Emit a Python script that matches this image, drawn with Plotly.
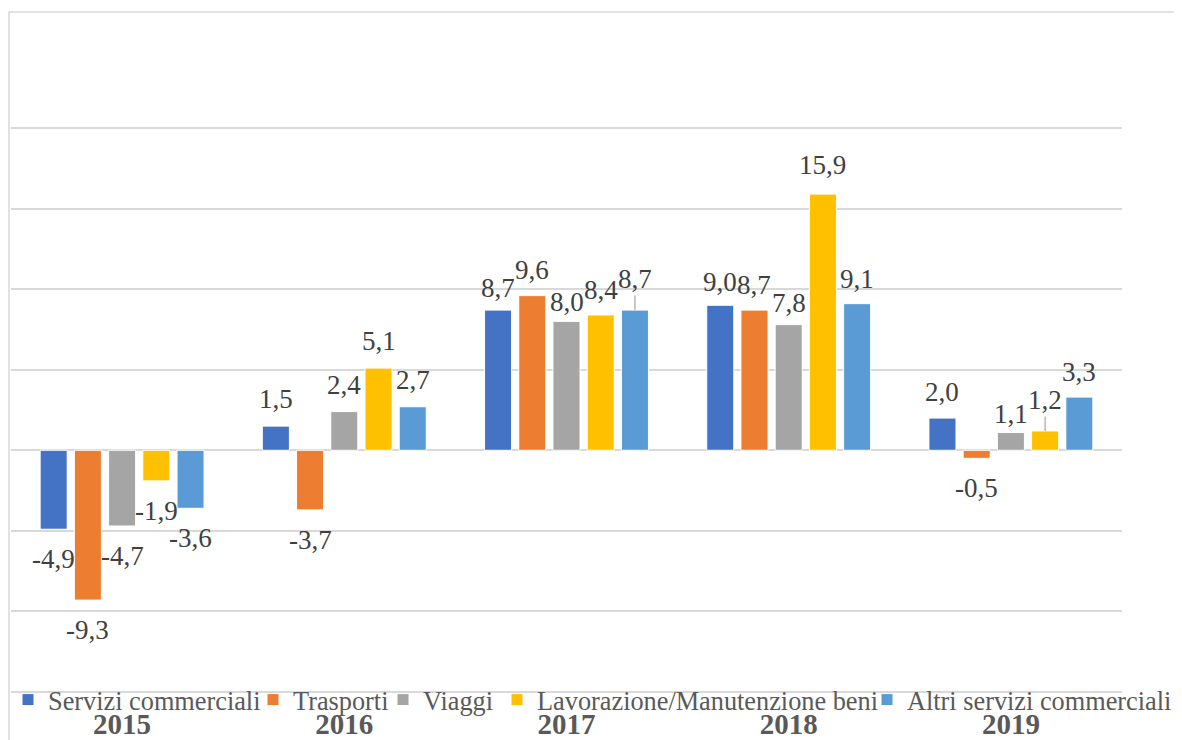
import plotly.graph_objects as go

years = ["2015", "2016", "2017", "2018", "2019"]
series_names = ["Servizi commerciali", "Trasporti", "Viaggi",
                "Lavorazione/Manutenzione beni", "Altri servizi commerciali"]
servizi = [-4.9, 1.5, 8.7, 9.0, 2.0]
trasporti = [-9.3, -3.7, 9.6, 8.7, -0.5]
viaggi = [-4.7, 2.4, 8.0, 7.8, 1.1]
lavorazione = [-1.9, 5.1, 8.4, 15.9, 1.2]
altri = [-3.6, 2.7, 8.7, 9.1, 3.3]
series_values = [servizi, trasporti, viaggi, lavorazione, altri]
colors = ["#4472C4", "#ED7D31", "#A5A5A5", "#FFC000", "#5B9BD5"]

# page body has an 8px margin; the figure is sized/offset to compensate
OFF = 8
W, H = 1182 - OFF, 740 - OFF
Y_MIN, Y_MAX, PAD_U = -15, 20, 0.5          # axis limits + padding (units)
PX_PER_U = 563.5 / (Y_MAX - Y_MIN)
PAD_PX = PAD_U * PX_PER_U
ML, MR = 11 - OFF, 60
MT = 128 - OFF - PAD_PX
MB = (740 - 691.5) - PAD_PX
BARGAP, BARGROUPGAP = 0.23, 0.21
plot_w = W - ML - MR
plot_h = H - MT - MB
slot_px = plot_w / len(years) * (1 - BARGAP) / len(series_names)

# label offsets (px above bar end); defaults, with a few manual adjustments
default_up, default_down = 27, -30
label_shift = {
    (2, 0): 22, (2, 1): 26, (2, 2): 19, (2, 3): 25,
    (3, 0): 23, (3, 1): 25, (3, 2): 22, (3, 3): 29, (3, 4): 25,
    (4, 0): 26, (4, 2): 19, (4, 4): 25,
}
leader = {(2, 4): 31, (4, 3): 31}

# legend entries: screen x where each entry's text starts
legend_text_x = [43, 293, 423, 537, 907]
legend_ids = ["legend", "legend2", "legend3", "legend4", "legend5"]

fig = go.Figure()
for j, (name, vals) in enumerate(zip(series_names, series_values)):
    fig.add_trace(go.Bar(
        x=years, y=vals, name=name, legend=legend_ids[j],
        marker=dict(color=colors[j], line=dict(color="white", width=1)),
        hoverinfo="x+y+name",
    ))

annotations = []
label_font = dict(family="Liberation Serif", size=27, color="#404040")
for j, vals in enumerate(series_values):
    for i, v in enumerate(vals):
        txt = f"{v:.1f}".replace(".", ",")
        xs = (j - (len(series_names) - 1) / 2) * slot_px
        if (i, j) in leader:
            annotations.append(dict(
                x=i, y=v, xref="x", yref="y", text=txt,
                showarrow=True, arrowhead=0, arrowwidth=1.2, arrowcolor="#a6a6a6",
                ax=0, ay=-leader[(i, j)], standoff=0, xshift=xs,
                font=label_font,
            ))
        else:
            up = label_shift.get((i, j), default_up if v >= 0 else default_down)
            annotations.append(dict(
                x=i, y=v, xref="x", yref="y", text=txt,
                showarrow=False, xshift=xs, yshift=up,
                xanchor="center", yanchor="middle", font=label_font,
            ))

legend_common = dict(
    orientation="h", xref="container", yref="container",
    xanchor="left", yanchor="middle", y=1 - (700 - OFF) / H,
    font=dict(family="Liberation Serif", size=26.3, color="#595959"),
    bgcolor="rgba(0,0,0,0)", itemwidth=30, borderwidth=0,
    itemclick=False, itemdoubleclick=False,
)
legends = {}
for j, lid in enumerate(legend_ids):
    legends[lid] = dict(legend_common, x=(legend_text_x[j] - 40 - OFF) / W)

fig.update_layout(
    width=W, height=H,
    margin=dict(l=ML, r=MR, t=MT, b=MB, pad=0, autoexpand=False),
    paper_bgcolor="white", plot_bgcolor="white",
    barmode="group", bargap=BARGAP, bargroupgap=BARGROUPGAP,
    font=dict(family="Liberation Serif", color="#595959"),
    showlegend=True,
    xaxis=dict(
        type="category", range=[-0.5, len(years) - 0.5], autorange=False,
        showgrid=False, zeroline=False, showline=False,
        ticks="", ticklabelstandoff=max(0, int(round(12 - PAD_PX))),
        tickfont=dict(family="Liberation Serif", size=29, color="#595959",
                      weight="bold"),
    ),
    yaxis=dict(
        range=[Y_MIN - PAD_U, Y_MAX + PAD_U], autorange=False,
        tickmode="linear", dtick=5, tick0=0,
        showticklabels=False,
        showgrid=True, gridcolor="#d9d9d9", gridwidth=1.5,
        zeroline=True, zerolinecolor="#d9d9d9", zerolinewidth=1.5,
        showline=False, ticks="",
    ),
    annotations=annotations,
    shapes=[dict(
        type="rect", xref="paper", yref="paper",
        x0=(9 - OFF - ML) / plot_w, x1=1.2,
        y0=-0.3, y1=(H - MB - (12 - OFF)) / plot_h,
        line=dict(color="#d9d9d9", width=1.5), fillcolor="rgba(0,0,0,0)",
        layer="below",
    )],
    **legends,
)

fig.write_html("out.html")
